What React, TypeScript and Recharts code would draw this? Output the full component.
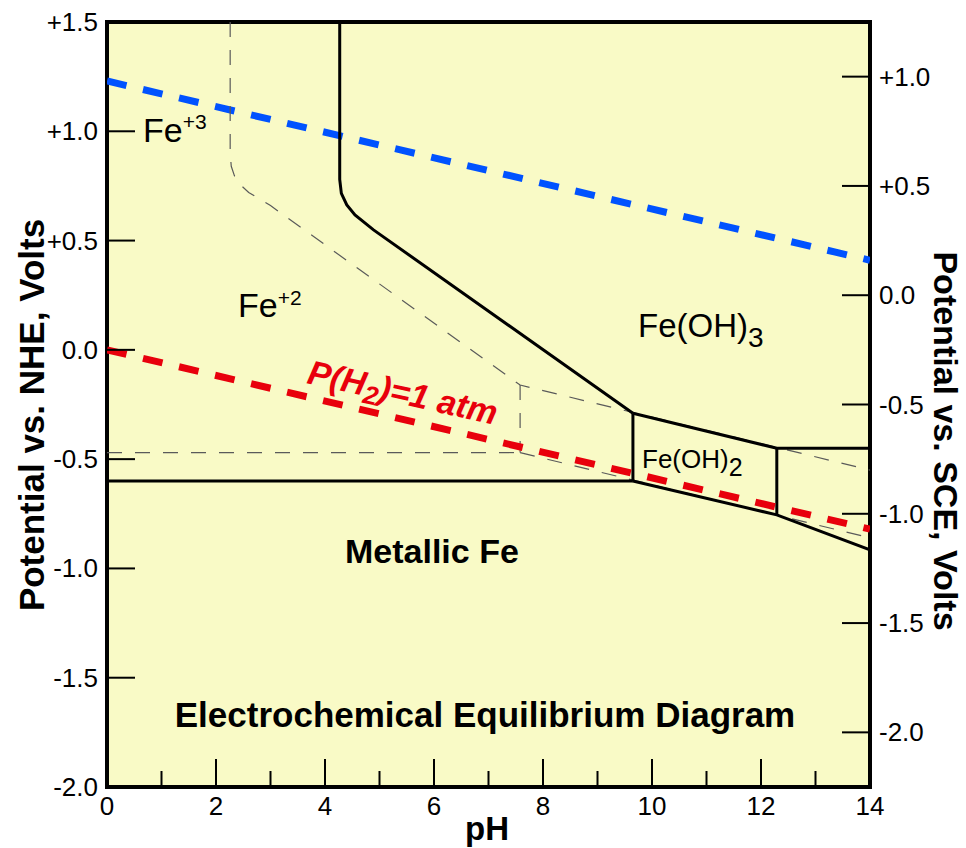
import React from "react";
import { ComposedChart, Line, XAxis, YAxis, ReferenceArea } from "recharts";

const PH_TICKS = [0, 1, 2, 3, 4, 5, 6, 7, 8, 9, 10, 11, 12, 13, 14];
const NHE_TICKS = [-2, -1.5, -1, -0.5, 0, 0.5, 1, 1.5];
const SCE_TICKS = [-2, -1.5, -1, -0.5, 0, 0.5, 1];
const SCE_OFFSET = 0.25;

// water stability lines
const O2_PH = [0, 14];
const O2_V = [1.23, 0.41];
const H2_PH = [0, 14];
const H2_V = [0, -0.82];

// boundaries at 10^-6 M (solid)
const FE3_FE2_PH = [4.27, 4.27, 4.3, 4.4, 4.55, 4.89, 9.65];
const FE3_FE2_V = [1.5, 0.78, 0.716, 0.663, 0.617, 0.549, -0.29];
const FE_FE2_PH = [0, 9.65];
const FE_FE2_V = [-0.6, -0.6];
const OH2_LEFT_PH = [9.65, 9.65];
const OH2_LEFT_V = [-0.29, -0.6];
const OH2_TOP_PH = [9.65, 12.29, 14];
const OH2_TOP_V = [-0.29, -0.45, -0.45];
const OH2_BOTTOM_PH = [9.65, 12.29, 14];
const OH2_BOTTOM_V = [-0.6, -0.755, -0.915];
const OH2_RIGHT_PH = [12.29, 12.29];
const OH2_RIGHT_V = [-0.45, -0.755];

// boundaries at 1 M (thin dashed)
const UPPER_1M_PH = [2.26, 2.26, 2.28, 2.34, 2.45, 2.6, 3.0, 7.58, 14];
const UPPER_1M_V = [1.5, 0.9, 0.84, 0.795, 0.755, 0.72, 0.66, -0.161, -0.55];
const MID_1M_PH = [7.58, 7.58];
const MID_1M_V = [-0.161, -0.47];
const FE_1M_PH = [0, 7.58];
const FE_1M_V = [-0.47, -0.47];
const LOWER_1M_PH = [7.58, 14];
const LOWER_1M_V = [-0.47, -0.86];

const toPoints = (ph: number[], v: number[]) =>
  ph.map((p, i) => ({ ph: p, v: v[i] }));

const FONT = "'Liberation Sans', Arial, Helvetica, sans-serif";
const BG = "#f9fac6";

const fmt = (v: number) => (v > 0 ? `+${v.toFixed(1)}` : v.toFixed(1));

function LeftTick(props: any) {
  const { x, y, payload } = props;
  return (
    <g>
      <line x1={x} x2={x + 28} y1={y} y2={y} stroke="#000" strokeWidth={2} />
      <text x={x - 9} y={y + 9} textAnchor="end" fontSize={26} fontFamily={FONT} fill="#000">
        {fmt(payload.value)}
      </text>
    </g>
  );
}

function RightTick(props: any) {
  const { x, y, payload } = props;
  return (
    <g>
      <line x1={x - 28} x2={x} y1={y} y2={y} stroke="#000" strokeWidth={2} />
      <text x={x + 9} y={y + 9} textAnchor="start" fontSize={26} fontFamily={FONT} fill="#000">
        {fmt(payload.value)}
      </text>
    </g>
  );
}

function BottomTick(props: any) {
  const { x, y, payload } = props;
  const major = payload.value % 2 === 0;
  return (
    <g>
      <line x1={x} x2={x} y1={y} y2={y - (major ? 28 : 16)} stroke="#000" strokeWidth={2} />
      {major && (
        <text x={x} y={y + 28} textAnchor="middle" fontSize={26} fontFamily={FONT} fill="#000">
          {payload.value}
        </text>
      )}
    </g>
  );
}

export default function App() {
  const solid = { stroke: "#000", strokeWidth: 3 };
  const thin = { stroke: "#5a5a5a", strokeWidth: 1.2, strokeDasharray: "15 13" };

  const series = [
    { key: "o2", data: toPoints(O2_PH, O2_V), style: { stroke: "#0052ff", strokeWidth: 7, strokeDasharray: "20 17" } },
    { key: "up1m", data: toPoints(UPPER_1M_PH, UPPER_1M_V), style: thin },
    { key: "mid1m", data: toPoints(MID_1M_PH, MID_1M_V), style: thin },
    { key: "fe1m", data: toPoints(FE_1M_PH, FE_1M_V), style: thin },
    { key: "low1m", data: toPoints(LOWER_1M_PH, LOWER_1M_V), style: thin },
    { key: "fe3fe2", data: toPoints(FE3_FE2_PH, FE3_FE2_V), style: solid },
    { key: "fefe2", data: toPoints(FE_FE2_PH, FE_FE2_V), style: solid },
    { key: "oh2l", data: toPoints(OH2_LEFT_PH, OH2_LEFT_V), style: solid },
    { key: "oh2t", data: toPoints(OH2_TOP_PH, OH2_TOP_V), style: solid },
    { key: "oh2b", data: toPoints(OH2_BOTTOM_PH, OH2_BOTTOM_V), style: solid },
    { key: "oh2r", data: toPoints(OH2_RIGHT_PH, OH2_RIGHT_V), style: solid },
    { key: "h2", data: toPoints(H2_PH, H2_V), style: { stroke: "#e8000c", strokeWidth: 7, strokeDasharray: "20 17" } },
  ];

  return (
    <div style={{ position: "absolute", left: 0, top: 0, width: 966, height: 848, background: "#fff" }}>
      {/* plot background sits behind the svg so labels stay on top */}
      <div style={{ position: "absolute", left: 107, top: 22, width: 763, height: 765, background: BG }} />
      <ComposedChart width={966} height={848} margin={{ top: 22, right: 0, bottom: 0, left: 0 }}>
        <XAxis
          dataKey="ph"
          type="number"
          domain={[0, 14]}
          ticks={PH_TICKS}
          interval={0}
          height={61}
          axisLine={false}
          tickLine={false}
          tickSize={0}
          tickMargin={0}
          tick={<BottomTick />}
          allowDataOverflow
        />
        <YAxis
          type="number"
          domain={[-2, 1.5]}
          ticks={NHE_TICKS}
          interval={0}
          width={107}
          axisLine={false}
          tickLine={false}
          tickSize={0}
          tickMargin={0}
          tick={<LeftTick />}
          allowDataOverflow
        />
        <YAxis
          yAxisId="sce"
          orientation="right"
          type="number"
          domain={[-2 - SCE_OFFSET, 1.5 - SCE_OFFSET]}
          ticks={SCE_TICKS}
          interval={0}
          width={96}
          axisLine={false}
          tickLine={false}
          tickSize={0}
          tickMargin={0}
          tick={<RightTick />}
          allowDataOverflow
        />
        <ReferenceArea x1={0} x2={14} y1={-2} y2={1.5} fill="none" stroke="#000" strokeWidth={4} />
        {series.map((s) => (
          <Line
            key={s.key}
            data={s.data}
            dataKey="v"
            type="linear"
            dot={false}
            activeDot={false}
            legendType="none"
            isAnimationActive={false}
            {...s.style}
          />
        ))}

        <g fontFamily={FONT} fill="#000">
          <text x={143} y={142} fontSize={34}>
            Fe<tspan dy={-13} fontSize={21}>+3</tspan>
          </text>
          <text x={238} y={317} fontSize={34}>
            Fe<tspan dy={-12} fontSize={21}>+2</tspan>
          </text>
          <text x={638} y={337} fontSize={33}>
            Fe(OH)<tspan dy={10} fontSize={28}>3</tspan>
          </text>
          <text x={642} y={468} fontSize={26}>
            Fe(OH)<tspan dy={8} fontSize={25}>2</tspan>
          </text>
          <text x={345} y={563} fontSize={34} fontWeight="bold">
            Metallic Fe
          </text>
          <text x={485} y={727} fontSize={35} fontWeight="bold" textAnchor="middle">
            Electrochemical Equilibrium Diagram
          </text>
          <text
            transform="translate(306,383) rotate(12.5)"
            fontSize={34}
            fontWeight="bold"
            fontStyle="italic"
            fill="#e8000c"
          >
            P(H<tspan dy={7} fontSize={26}>2</tspan>
            <tspan dy={-7}>)=1 atm</tspan>
          </text>
          <text transform="translate(44,415) rotate(-90)" fontSize={35} fontWeight="bold" textAnchor="middle">
            Potential vs. NHE, Volts
          </text>
          <text transform="translate(934,441) rotate(90)" fontSize={34} fontWeight="bold" textAnchor="middle">
            Potential vs. SCE, Volts
          </text>
          <text x={487} y={840} fontSize={33} fontWeight="bold" textAnchor="middle">
            pH
          </text>
        </g>
      </ComposedChart>
    </div>
  );
}
